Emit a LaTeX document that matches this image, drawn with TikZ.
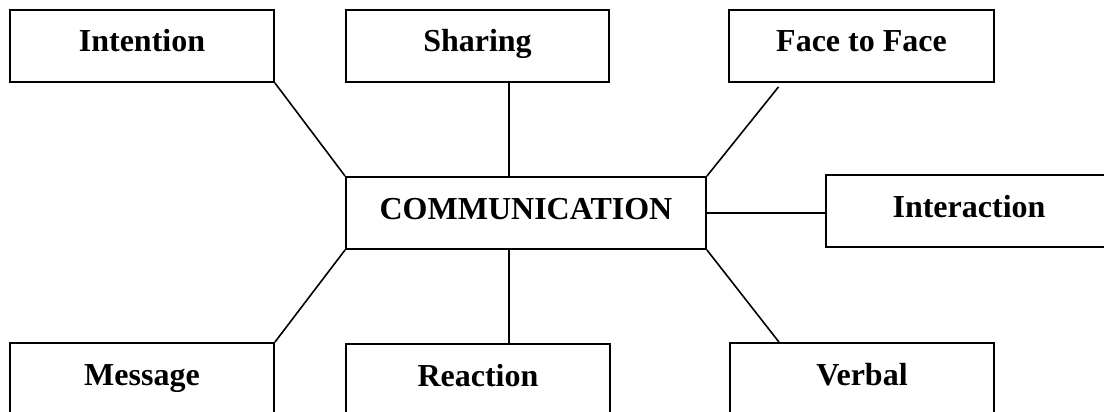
\documentclass[tikz,border=0pt]{standalone}
\usepackage{fontspec}
\setmainfont{Liberation Serif}
\usetikzlibrary{positioning}
\tikzset{
	box/.style={draw,rectangle,align=center,line width=1.8pt,inner xsep=0pt,inner ysep=0pt,
		text height=42pt,text depth=30pt,font=\bfseries\fontsize{32}{38}\selectfont},
	link/.style={line width=1.6pt}
}

\begin{document}
\begin{tikzpicture}[x=1pt,y=-1pt]
			\clip (0,0) rectangle (1104,412);
			\node[box,minimum width=264pt] (int) at (142,46) {Intention};
			\node[box,minimum width=263pt] (shr) at (477.5,46) {Sharing};
			\node[box,minimum width=265pt] (fac) at (861.5,46) {Face to Face};
			\node[box,minimum width=360pt] (com) at (526,213) {COMMUNICATION};
			\node[box,minimum width=300pt] (itr) at (976,211) {\hspace*{-14pt}Interaction};
			\node[box,minimum width=264pt] (msg) at (142,379) {Message};
			\node[box,minimum width=264pt] (rea) at (478,380) {Reaction};
			\node[box,minimum width=264pt] (vrb) at (862,379) {Verbal};
			
			\draw[link] (int.south east) -- (com.north west);
			\draw[link] ([xshift=-17pt]com.north) -- ([xshift=-17pt]com.north |- shr.south);
			\draw[link] (com.north east) -- ([xshift=-83pt,yshift=-4pt]fac.south);
			\draw[link] (com.east) -- (com.east -| itr.west);
			\draw[link] (msg.north east) -- (com.south west);
			\draw[link] ([xshift=-17pt]com.south) -- ([xshift=-17pt]com.south |- rea.north);
			\draw[link] (com.south east) -- ([xshift=-83pt]vrb.north);
		\end{tikzpicture}
\end{document}
